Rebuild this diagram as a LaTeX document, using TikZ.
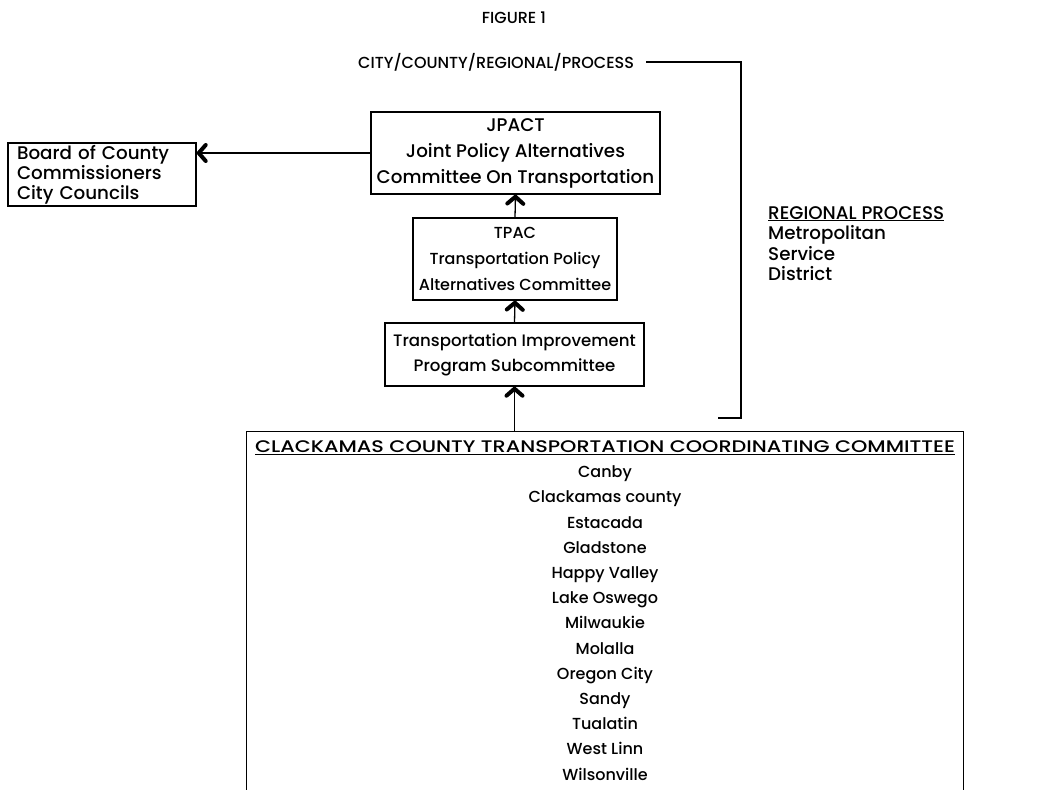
\documentclass[tikz,border=0pt]{standalone}
\usepackage{fontspec}
\setmainfont{Poppins Medium}
\usetikzlibrary{arrows.meta, positioning}
\tikzset{
    box/.style={draw, line width=1.4pt, align=center, inner sep=0pt, font=\fontsize{16}{26}\selectfont},
    listbox/.style={box, font=\fontsize{16}{25.2}\selectfont},
    arr/.style={-{Straight Barb[length=7pt, width=16pt, line width=4pt, round]}, line width=1.3pt},
    bracket/.style={line width=1.3pt},
    lbl/.style={inner sep=0pt, font=\fontsize{16}{20.5}\selectfont}
}

\begin{document}
\begin{tikzpicture}[x=1pt, y=-1pt]
  \useasboundingbox (0,0) rectangle (1051,789);
  % titles
  \node[lbl] (fig) at (514,18) {FIGURE 1};
  \node[lbl, anchor=west] (city) at (358,62) {CITY/COUNTY/REGIONAL/PROCESS};
  % committee chain
  \node[box, font=\fontsize{18.3}{26}\selectfont, minimum width=289pt, minimum height=82pt] (jpact) at (515.5,153)
    {JPACT\\ Joint Policy Alternatives\\ Committee On Transportation};
  \node[box, minimum width=204pt, minimum height=82pt] (tpac) at (515,259)
    {TPAC\\ Transportation Policy\\ Alternatives Committee};
  \node[box, font=\fontsize{16.6}{25}\selectfont, minimum width=259pt, minimum height=63pt] (tip) at (514.5,354.5)
    {Transportation Improvement\\ Program Subcommittee};
  \node[box, align=left, font=\fontsize{18.3}{20}\selectfont, text width=170pt,
        minimum width=188pt, minimum height=63pt] (board) at (102,174.5)
    {Board of County\\ Commissioners\\ City Councils};
  % county committee, open at the bottom
  \node[listbox, draw=none, minimum width=716pt, minimum height=357pt] (cccc) at (605,610.5)
    {\scalebox{1.3}[1.05]{\underline{CLACKAMAS COUNTY TRANSPORTATION COORDINATING COMMITTEE}}\\
     Canby\\ Clackamas county\\ Estacada\\ Gladstone\\ Happy Valley\\ Lake Oswego\\
     Milwaukie\\ Molalla\\ Oregon City\\ Sandy\\ Tualatin\\ West Linn\\ Wilsonville};
  \draw[bracket] (cccc.south west) -- (cccc.north west) -- (cccc.north east) -- (cccc.south east);
  % regional process
  \node[lbl, font=\fontsize{18.3}{20.6}\selectfont, anchor=north west, align=left] (metro) at (768,206)
    {\underline{REGIONAL PROCESS}\\ Metropolitan\\ Service\\ District};
  \coordinate (brbot) at (741,418);
  \coordinate (brtop) at (city.east -| brbot);
  \coordinate (brend) at (718,418);
  \draw[bracket] ([xshift=12pt]city.east) -- (brtop) -- (brbot) -- (brend);
  % arrows
  \draw[arr] (cccc.north -| tip.south) -- (tip.south);
  \draw[arr] (tip.north) -- (tpac.south);
  \draw[arr] (tpac.north) -- (jpact.south);
  \draw[arr] (jpact.west) -- (jpact.west -| board.east);
\end{tikzpicture}
\end{document}
